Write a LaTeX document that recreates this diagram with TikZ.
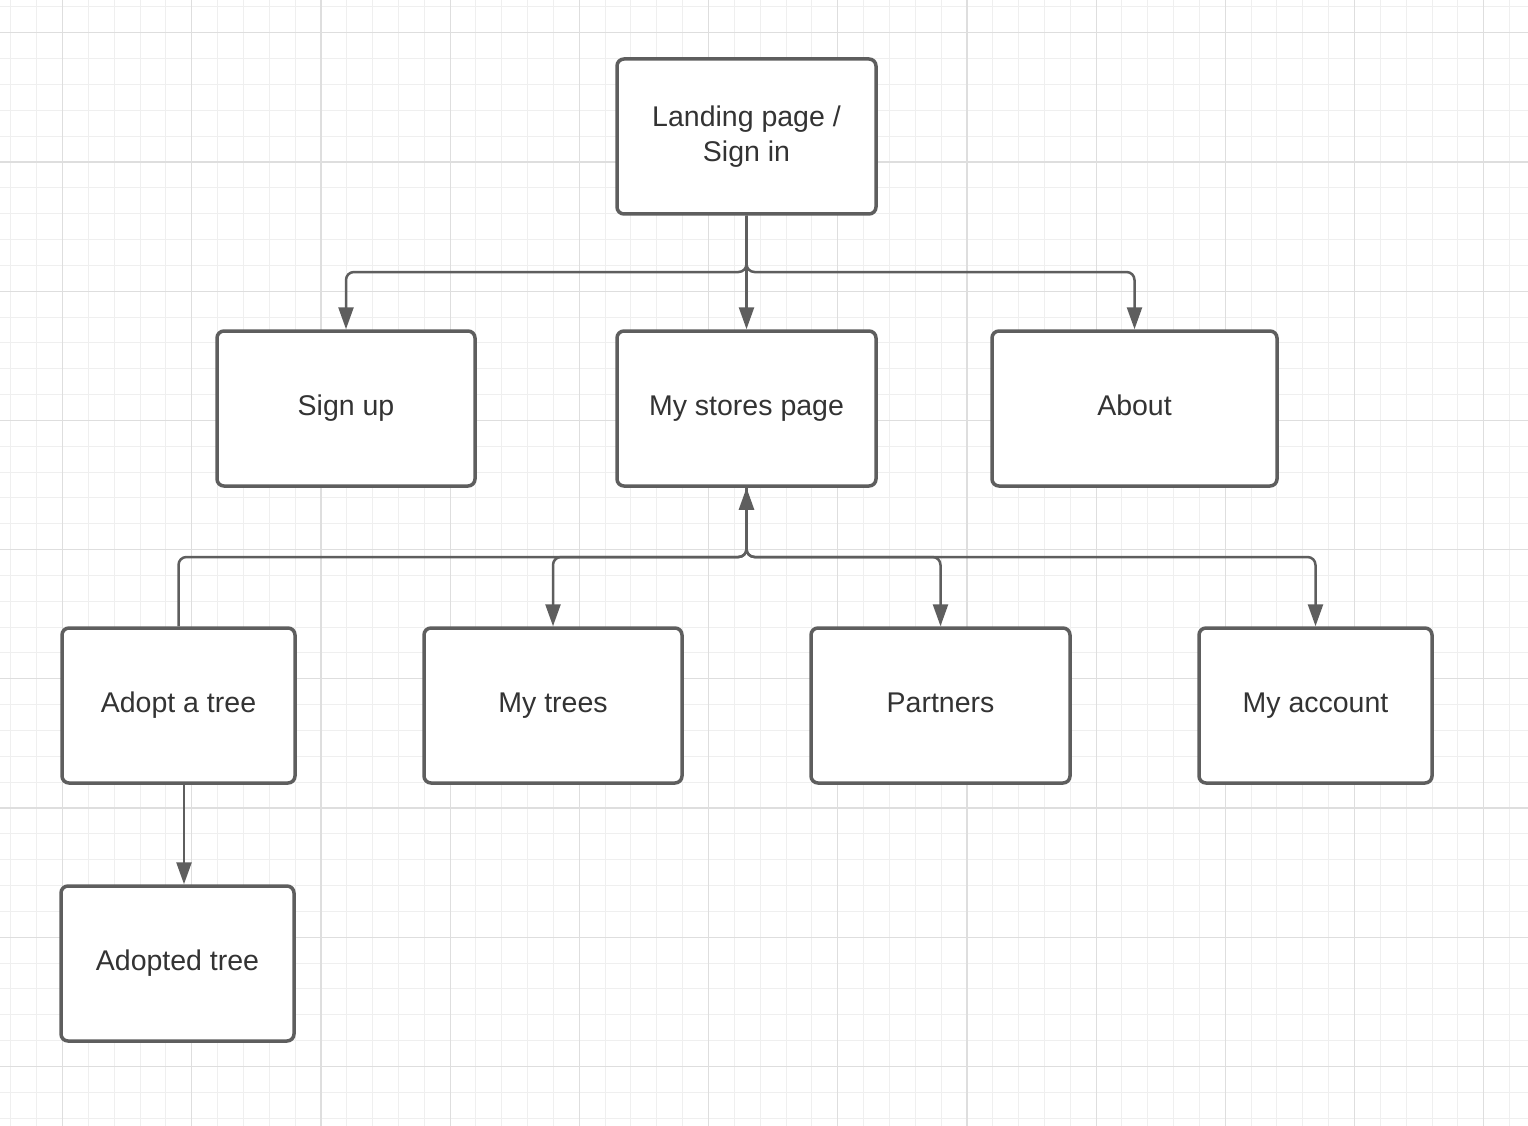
\documentclass[tikz,border=0pt]{standalone}
\usepackage{fontspec}
\setmainfont{Liberation Sans}
\usetikzlibrary{arrows.meta,positioning}
\definecolor{gridminor}{HTML}{EFEFEF}
\definecolor{gridmajor}{HTML}{DEDEDE}
\definecolor{boxline}{HTML}{5E5E5E}
\definecolor{txt}{HTML}{333333}
\tikzset{
  pagebase/.style={draw=boxline, line width=3.5pt, rounded corners=7pt, fill=white,
    text=txt, align=center, font=\fontsize{28.5}{34.5}\selectfont,
    inner sep=0pt, minimum height=155pt},
  page/.style={pagebase, text height=20.5pt, text depth=6pt},
  link/.style={draw=boxline, line width=2.5pt, rounded corners=8pt},
  arr/.style={link, -{Triangle[length=22pt,width=15pt]}},
}
\begin{document}
\begin{tikzpicture}[x=1pt,y=-1pt]
\useasboundingbox (0,0) rectangle (1528,1126);
\fill[white] (0,0) rectangle (1528,1126);
% background grid
\foreach \i in {0,...,58} {
  \pgfmathsetmacro\xx{10.82+25.84*\i}
  \draw[gridminor, line width=1pt] (\xx,0) -- (\xx,1126);
}
\foreach \i in {0,...,43} {
  \pgfmathsetmacro\yy{6.96+25.84*\i}
  \draw[gridminor, line width=1pt] (0,\yy) -- (1528,\yy);
}
\foreach \i in {0,...,11} {
  \pgfmathsetmacro\xx{62.5+129.2*\i}
  \draw[gridmajor, line width=1.2pt] (\xx,0) -- (\xx,1126);
}
\foreach \i in {0,...,8} {
  \pgfmathsetmacro\yy{32.8+129.2*\i}
  \draw[gridmajor, line width=1.2pt] (0,\yy) -- (1528,\yy);
}
% pages
\node[pagebase, minimum width=259pt] (landing) at (746.5,136.5) {Landing page /\\Sign in};
\node[page, minimum width=258pt] (signup)  at (346,408.5) {Sign up};
\node[page, minimum width=259pt] (stores)  at (746.5,408.5) {My stores page};
\node[page, minimum width=285pt] (about)   at (1134.5,408.5) {About};
\node[page, minimum width=233pt] (adopt)   at (178.5,705.5) {Adopt a tree};
\node[page, minimum width=258pt] (trees)   at (553,705.5) {My trees};
\node[page, minimum width=259pt] (partners) at (940.5,705.5) {Partners};
\node[page, minimum width=233pt] (account) at (1315.5,705.5) {My account};
\node[page, minimum width=233pt] (adopted) at (177.5,963.5) {Adopted tree};
% bus points
\coordinate (topbus) at (746.5,272);
\coordinate (lowbus) at (746.5,557);
% links from the landing page
\draw[arr] (landing.south) -- (topbus) -| (signup.north);
\draw[arr] (landing.south) -- (stores.north);
\draw[arr] (landing.south) -- (topbus) -| (about.north);
% links around the stores page
\draw[arr] (adopt.north) |- (lowbus) -- (stores.south);
\draw[arr] (stores.south) -- (lowbus) -| (trees.north);
\draw[arr] (stores.south) -- (lowbus) -| (partners.north);
\draw[arr] (stores.south) -- (lowbus) -| (account.north);
% adoption link
\draw[arr] ([xshift=5.5pt]adopt.south) -- ([xshift=6.5pt]adopted.north);
\end{tikzpicture}
\end{document}
